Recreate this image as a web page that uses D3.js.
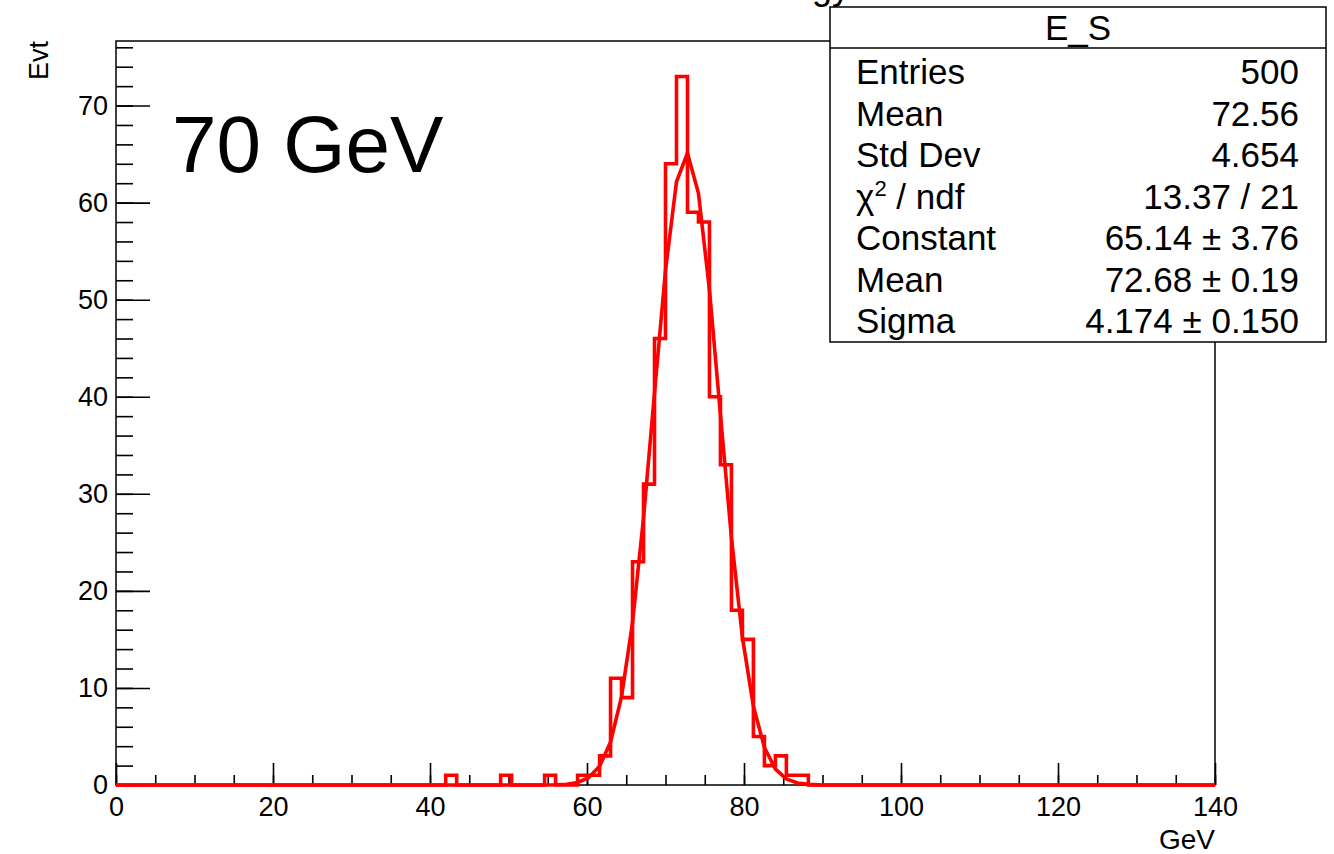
<!DOCTYPE html>
<html>
<head>
<meta charset="utf-8">
<script src="https://cdn.jsdelivr.net/npm/d3@7"></script>
<style>
  body { margin: 0; background: #fff; }
  text { font-family: "Liberation Sans", Arial, Helvetica, sans-serif; fill: #000; }
</style>
</head>
<body>
<div id="chart"></div>
<script>
// histogram E_S : 100 bins from 0 to 140 GeV
var binWidth = 1.4;
var nBins = 100;
var binLow   = [42.0, 49.0, 54.6, 58.8, 60.2, 61.6, 63.0, 64.4, 65.8, 67.2, 68.6, 70.0, 71.4,
                72.8, 74.2, 75.6, 77.0, 78.4, 79.8, 81.2, 82.6, 84.0, 85.4, 86.8];
var binCount = [1, 1, 1, 1, 1, 3, 11, 9, 23, 31, 46, 64, 73,
                59, 58, 40, 33, 18, 15, 5, 2, 3, 1, 1];

// gaus fit parameters (from the stats box)
var fitConstant = 65.14;
var fitMean = 72.68;
var fitSigma = 4.174;

var xTicksMajor = [0, 20, 40, 60, 80, 100, 120, 140];
var yTicksMajor = [0, 10, 20, 30, 40, 50, 60, 70];

var statsTitle = "E_S";
var statsLabels = ["Entries", "Mean", "Std Dev", "chi2", "Constant", "Mean", "Sigma"];
var statsValues = ["500", "72.56", "4.654", "13.37 / 21", "65.14 \u00b1 3.76", "72.68 \u00b1 0.19", "4.174 \u00b1 0.150"];

var W = 1334, H = 854;
var Margin = {top: 41, right: 119, bottom: 69, left: 116};

var svg = d3.select("#chart").append("svg")
    .attr("width", W)
    .attr("height", H)
    .style("background", "#fff");

var x = d3.scaleLinear().domain([0, 140]).range([Margin.left, W - Margin.right]);
var y = d3.scaleLinear().domain([0, 76.65]).range([H - Margin.bottom, Margin.top]);

// title, mostly off the top of the picture
svg.append("text")
   .attr("x", 850)
   .attr("y", -1)
   .attr("text-anchor", "end")
   .style("font-size", "36px")
   .text("Energy");

// frame
svg.append("rect")
   .attr("x", x(0))
   .attr("y", y(76.65))
   .attr("width", x(140) - x(0))
   .attr("height", y(0) - y(76.65))
   .style("fill", "none")
   .style("stroke", "#000")
   .style("stroke-width", 1.5);

// x axis: minor then major ticks, pointing up
var xMinor = svg.append("g")
   .attr("transform", "translate(0," + y(0) + ")")
   .call(d3.axisBottom(x).tickValues(d3.range(0, 141, 5)).tickSize(-10).tickSizeOuter(0).tickFormat(""));
var xMajor = svg.append("g")
   .attr("transform", "translate(0," + y(0) + ")")
   .call(d3.axisBottom(x).tickValues(xTicksMajor).tickSize(-22).tickSizeOuter(0).tickPadding(12).tickFormat(d3.format("d")));

// y axis
var yMinor = svg.append("g")
   .attr("transform", "translate(" + x(0) + ",0)")
   .call(d3.axisLeft(y).tickValues(d3.range(0, 77, 2)).tickSize(-17).tickSizeOuter(0).tickFormat(""));
var yMajor = svg.append("g")
   .attr("transform", "translate(" + x(0) + ",0)")
   .call(d3.axisLeft(y).tickValues(yTicksMajor).tickSize(-34).tickSizeOuter(0).tickPadding(8).tickFormat(d3.format("d")));

svg.selectAll(".domain").remove();
svg.selectAll(".tick line").style("stroke", "#000").style("stroke-width", 1.6);
svg.selectAll(".tick text").style("font-size", "27px").style("font-family", "'Liberation Sans', Arial, sans-serif").attr("fill", "#000");

// axis titles
svg.append("text")
   .attr("transform", "translate(48," + Margin.top + ") rotate(-90)")
   .attr("text-anchor", "end")
   .style("font-size", "27px")
   .text("Evt");

svg.append("text")
   .attr("x", x(140))
   .attr("y", 849)
   .attr("text-anchor", "end")
   .style("font-size", "28px")
   .text("GeV");

// histogram outline
var counts = d3.range(nBins).map(function() { return 0; });
binLow.forEach(function(lo, i) { counts[Math.round(lo / binWidth)] = binCount[i]; });

var histPts = [[0, 0]];
counts.forEach(function(c, i) {
  histPts.push([i * binWidth, c]);
  histPts.push([(i + 1) * binWidth, c]);
});
histPts.push([140, 0]);

var line = d3.line()
   .x(function(d) { return x(d[0]); })
   .y(function(d) { return y(d[1]); });

svg.append("path")
   .datum(histPts)
   .attr("d", line)
   .style("fill", "none")
   .style("stroke", "#ff0000")
   .style("stroke-width", 3.6)
   .style("stroke-linejoin", "miter");

// fitted gaussian, drawn like TF1 with npx = 100
var fitPts = d3.range(nBins + 1).map(function(i) {
  var e = i * binWidth;
  var t = (e - fitMean) / fitSigma;
  return [e, fitConstant * Math.exp(-0.5 * t * t)];
});

svg.append("path")
   .datum(fitPts)
   .attr("d", line)
   .style("fill", "none")
   .style("stroke", "#ff0000")
   .style("stroke-width", 3.6);

// big label
svg.append("text")
   .attr("x", 172)
   .attr("y", 172)
   .style("font-size", "80px")
   .text("70 GeV");

// stats box
var box = svg.append("g");
box.append("rect")
   .attr("x", 830)
   .attr("y", 7)
   .attr("width", 496)
   .attr("height", 335)
   .style("fill", "#fff")
   .style("stroke", "#000")
   .style("stroke-width", 1.5);
box.append("line")
   .attr("x1", 830).attr("x2", 1326)
   .attr("y1", 48).attr("y2", 48)
   .style("stroke", "#000")
   .style("stroke-width", 1.5);
box.append("text")
   .attr("x", 1078)
   .attr("y", 40)
   .attr("text-anchor", "middle")
   .style("font-size", "35px")
   .text(statsTitle);

statsLabels.forEach(function(lab, i) {
  var by = 84 + i * 41.5;
  var t = box.append("text")
     .attr("x", 856)
     .attr("y", by)
     .style("font-size", "35px");
  if (lab === "chi2") {
    t.append("tspan").text("\u03c7");
    t.append("tspan").attr("dy", -13).style("font-size", "22px").text("2");
    t.append("tspan").attr("dy", 13).text(" / ndf");
  } else {
    t.text(lab);
  }
  box.append("text")
     .attr("x", 1299)
     .attr("y", by)
     .attr("text-anchor", "end")
     .style("font-size", "35px")
     .text(statsValues[i]);
});
</script>
</body>
</html>
